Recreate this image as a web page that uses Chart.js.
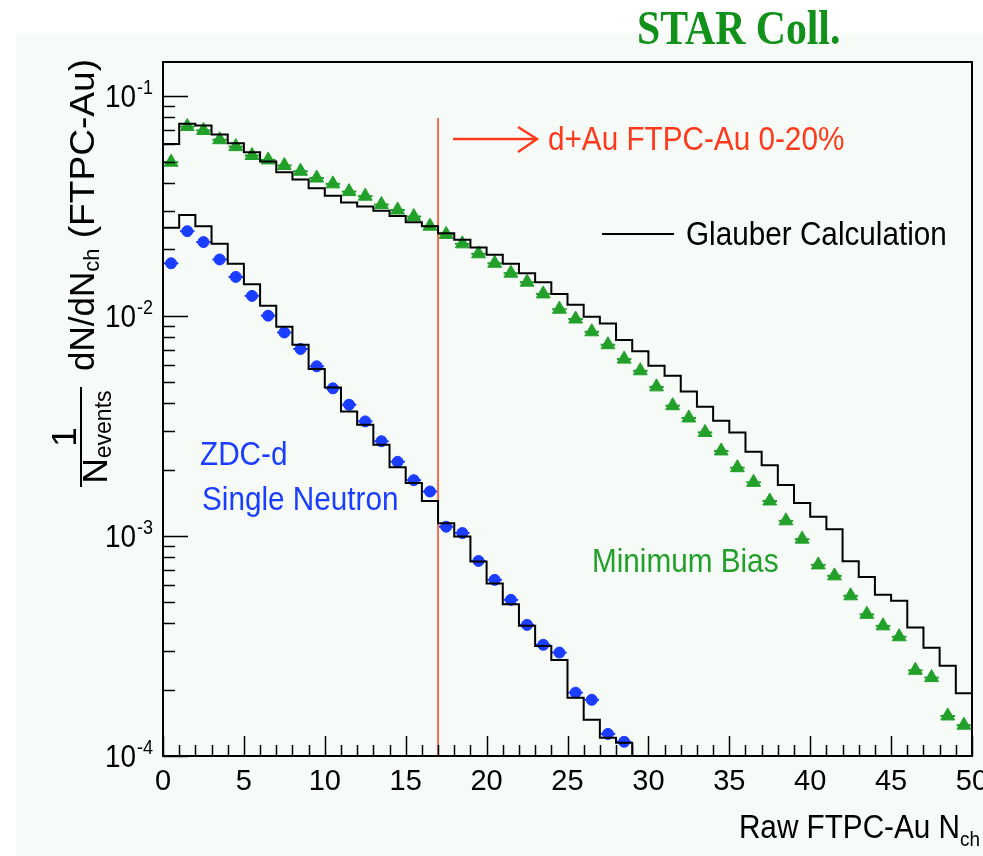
<!DOCTYPE html>
<html>
<head>
<meta charset="utf-8">
<script src="https://cdn.jsdelivr.net/npm/chart.js@4.4.1/dist/chart.umd.min.js"></script>
<style>
    html, body { margin: 0; padding: 0; background: #fff; }
    #wrap { width: 983px; height: 856px; }
</style>
</head>
<body>
<div id="wrap"><canvas id="chart" width="983" height="856"></canvas></div>
<script>
// Glauber histogram, minimum bias (bins 0-1 ... 49-50)
const glauberMinBias = [0.0602, 0.0744, 0.0731, 0.0665, 0.0607, 0.0552, 0.0502, 0.0448, 0.0415, 0.0379,
    0.0351, 0.0327, 0.0313, 0.0300, 0.0284, 0.0266, 0.0255, 0.0237, 0.0221, 0.0204,
    0.0189, 0.0172, 0.0156, 0.0142, 0.01255, 0.0112, 0.0099, 0.00922, 0.00776, 0.00689,
    0.00593, 0.00533, 0.00452, 0.00386, 0.00333, 0.00295, 0.00241, 0.00209, 0.00170, 0.00141,
    0.00122, 0.00107, 0.000766, 0.000651, 0.00054, 0.000507, 0.000383, 0.00031, 0.000257, 0.000193];

// measured minimum bias (bin centres 0.5 ... 49.5)
const minBias = [0.0498, 0.0723, 0.0694, 0.0630, 0.0586, 0.0534, 0.0510, 0.0481, 0.0453, 0.0422,
    0.0397, 0.0366, 0.0349, 0.0320, 0.0302, 0.0282, 0.0255, 0.0234, 0.0212, 0.0191,
    0.0173, 0.0156, 0.0142, 0.01256, 0.0107, 0.00966, 0.00845, 0.00738, 0.00635, 0.00562,
    0.00475, 0.0039, 0.00343, 0.00295, 0.00243, 0.00204, 0.00175, 0.00144, 0.00117, 0.000966,
    0.000738, 0.000658, 0.000534, 0.00044, 0.00039, 0.000348, 0.000245, 0.000227, 0.000152, 0.000138];

// Glauber histogram, ZDC-d single neutron (bins 0-1 ... 28-29)
const glauberZdc = [0.0251, 0.0287, 0.0255, 0.0212, 0.0172, 0.0139, 0.0111, 0.00891, 0.00738, 0.00573,
    0.00472, 0.00367, 0.0032, 0.00259, 0.00205, 0.00174, 0.00144, 0.00114, 0.000993, 0.000764,
    0.000607, 0.000489, 0.00039, 0.000316, 0.000273, 0.000184, 0.000146, 0.000121, 0.000115];

// measured ZDC-d single neutron (bin centres 0.5 ... 28.5)
const zdcSingleN = [0.0173, 0.0242, 0.0216, 0.0180, 0.0150, 0.0123, 0.0100, 0.00839, 0.00706, 0.00589,
    0.00468, 0.00394, 0.00331, 0.00269, 0.00217, 0.00179, 0.00159, 0.0011, 0.00103, 0.000769,
    0.000631, 0.000512, 0.000394, 0.00032, 0.000295, 0.000194, 0.00018, 0.000126, 0.000116];

const xMin = 0, xMax = 50, xStep = 5;
const yMin = 1e-4, yMax = 0.142;
const cutNch = 17;
const cutTop = 0.079;
const yDecades = [1e-1, 1e-2, 1e-3, 1e-4];
const yExponents = ['-1', '-2', '-3', '-4'];

const GREEN = '#22a02a';
const BLUE = '#1a3dff';
const RED = '#ff3a1c';
const FONT = '"Liberation Sans", Arial, Helvetica, sans-serif';

function histPoints(vals, dropToAxis) {
    const pts = vals.map((v, i) => ({ x: i, y: v }));
    pts.push({ x: vals.length, y: vals[vals.length - 1] });
    if (dropToAxis) pts.push({ x: vals.length, y: yMin });
    return pts;
}

function centrePoints(vals) {
    return vals.map((v, i) => ({ x: i + 0.5, y: v }));
}

// text with the narrow look of the original
function txt(ctx, s, x, y, size, color, opts = {}) {
    ctx.save();
    ctx.font = `${opts.bold ? 'bold ' : ''}${size}px ${opts.family || FONT}`;
    ctx.fillStyle = color;
    ctx.textAlign = opts.align || 'left';
    ctx.textBaseline = opts.baseline || 'alphabetic';
    ctx.translate(x, y);
    ctx.scale(opts.sx || 0.9, opts.sy || 1);
    ctx.fillText(s, 0, 0);
    const w = ctx.measureText(s).width * (opts.sx || 0.9);
    ctx.restore();
    return w;
}

function measure(ctx, s, size, sx) {
    ctx.save();
    ctx.font = `${size}px ${FONT}`;
    const w = ctx.measureText(s).width * sx;
    ctx.restore();
    return w;
}

const decorPlugin = {
    id: 'decor',
    beforeDraw(chart) {
        const ctx = chart.ctx;
        ctx.save();
        ctx.fillStyle = '#ffffff';
        ctx.fillRect(0, 0, chart.width, chart.height);
        ctx.fillStyle = '#f6fbf8';
        ctx.fillRect(16, 33, chart.width - 16, chart.height - 33);
        ctx.restore();
    },
    beforeDatasetsDraw(chart) {
        // horizontal error bars (bin width)
        const ctx = chart.ctx;
        const xs = chart.scales.x, ys = chart.scales.y;
        const a = chart.chartArea;
        ctx.save();
        ctx.beginPath();
        ctx.rect(a.left, a.top, a.right - a.left, a.bottom - a.top);
        ctx.clip();
        chart.data.datasets.forEach(ds => {
            if (!ds.errX) return;
            ctx.strokeStyle = ds.borderColor;
            ctx.lineWidth = 2;
            ds.data.forEach(p => {
                const y = ys.getPixelForValue(p.y);
                ctx.beginPath();
                ctx.moveTo(xs.getPixelForValue(p.x - 0.45), y);
                ctx.lineTo(xs.getPixelForValue(p.x + 0.45), y);
                ctx.stroke();
            });
        });
        ctx.restore();
    },
    afterDraw(chart) {
        const ctx = chart.ctx;
        const xs = chart.scales.x, ys = chart.scales.y;
        const a = chart.chartArea;

        // frame
        ctx.save();
        ctx.strokeStyle = '#000';
        ctx.lineWidth = 2;
        ctx.strokeRect(a.left, a.top, a.right - a.left, a.bottom - a.top);

        // x ticks, pointing inward
        ctx.lineWidth = 1.5;
        for (let v = xMin; v <= xMax; v++) {
            const x = Math.round(xs.getPixelForValue(v)) + 0.5;
            const len = v % xStep === 0 ? 20 : 11;
            ctx.beginPath();
            ctx.moveTo(x, a.bottom);
            ctx.lineTo(x, a.bottom - len);
            ctx.stroke();
        }
        // y ticks (log), pointing inward
        yDecades.forEach(d => {
            for (let m = 1; m <= 9; m++) {
                const v = d * m;
                if (v < yMin || v > yMax) continue;
                const y = Math.round(ys.getPixelForValue(v)) + 0.5;
                const len = m === 1 ? 25 : 12;
                ctx.beginPath();
                ctx.moveTo(a.left, y);
                ctx.lineTo(a.left + len, y);
                ctx.stroke();
            }
        });
        ctx.restore();

        // y tick labels 10^-n
        yDecades.forEach((d, i) => {
            const y = ys.getPixelForValue(d);
            txt(ctx, '10', 136, y + 11, 31, '#000', { align: 'right' });
            txt(ctx, yExponents[i], 137, y - 2, 20, '#000');
        });

        // x axis title
        const subW = measure(ctx, 'ch', 21, 0.9);
        txt(ctx, 'Raw FTPC-Au N', 980 - subW, 838, 33, '#000', { align: 'right' });
        txt(ctx, 'ch', 980 - subW, 846, 21, '#000');

        // y axis title
        ctx.save();
        ctx.translate(84, 371);
        ctx.rotate(-Math.PI / 2);
        let w = txt(ctx, 'dN/dN', 0, 0, 35, '#000', { baseline: 'middle', sx: 1 });
        w += txt(ctx, 'ch', w, 9, 22, '#000', { baseline: 'middle', sx: 1 });
        txt(ctx, ' (FTPC-Au)', w, 0, 35, '#000', { baseline: 'middle', sx: 1.06 });
        // fraction 1 / N_events
        const fc = -66;
        ctx.strokeStyle = '#000';
        ctx.lineWidth = 2;
        ctx.beginPath();
        ctx.moveTo(fc - 50, -3);
        ctx.lineTo(fc + 50, -3);
        ctx.stroke();
        txt(ctx, '1', fc, -18, 35, '#000', { baseline: 'middle', align: 'center', sx: 1 });
        const nW = measure(ctx, 'N', 35, 1) + measure(ctx, 'events', 23, 1);
        const n0 = fc - nW / 2;
        const wN = txt(ctx, 'N', n0, 13, 35, '#000', { baseline: 'middle', sx: 1 });
        txt(ctx, 'events', n0 + wN, 21, 23, '#000', { baseline: 'middle', sx: 1 });
        ctx.restore();

        // red arrow + label
        ctx.save();
        ctx.strokeStyle = RED;
        ctx.lineWidth = 2.5;
        ctx.beginPath();
        ctx.moveTo(453, 139);
        ctx.lineTo(537, 139);
        ctx.moveTo(518, 127);
        ctx.lineTo(537, 139);
        ctx.lineTo(518, 152);
        ctx.stroke();
        ctx.restore();
        txt(ctx, 'd+Au FTPC-Au 0-20%', 548, 150, 33, RED);

        // legend for the Glauber line
        ctx.save();
        ctx.strokeStyle = '#000';
        ctx.lineWidth = 2;
        ctx.beginPath();
        ctx.moveTo(602, 234);
        ctx.lineTo(674, 234);
        ctx.stroke();
        ctx.restore();
        txt(ctx, 'Glauber Calculation', 686, 245, 33, '#000');

        // labels
        txt(ctx, 'ZDC-d', 200, 465, 33, BLUE);
        txt(ctx, 'Single Neutron', 202, 510, 33, BLUE);
        txt(ctx, 'Minimum Bias', 592, 572, 33, GREEN);
        txt(ctx, 'STAR Coll.', 637, 44, 48, '#11901a',
            { bold: true, family: '"Liberation Serif", "Times New Roman", serif', sx: 0.87 });
    }
};

const ctx = document.getElementById('chart').getContext('2d');
new Chart(ctx, {
    type: 'scatter',
    data: {
        datasets: [
            {
                type: 'line',
                label: 'Glauber Calculation (min. bias)',
                data: histPoints(glauberMinBias, false),
                stepped: 'before',
                showLine: true,
                borderColor: '#000',
                borderWidth: 2,
                pointRadius: 0,
                fill: false
            },
            {
                type: 'line',
                label: 'Glauber Calculation (ZDC-d)',
                data: histPoints(glauberZdc, true),
                stepped: 'before',
                showLine: true,
                borderColor: '#000',
                borderWidth: 2,
                pointRadius: 0,
                fill: false
            },
            {
                type: 'line',
                label: 'd+Au FTPC-Au 0-20%',
                data: [{ x: cutNch, y: yMin }, { x: cutNch, y: cutTop }],
                showLine: true,
                borderColor: RED,
                borderWidth: 1.5,
                pointRadius: 0,
                fill: false
            },
            {
                label: 'Minimum Bias',
                data: centrePoints(minBias),
                pointStyle: 'triangle',
                pointRadius: 8,
                backgroundColor: GREEN,
                borderColor: GREEN,
                borderWidth: 1,
                errX: true
            },
            {
                label: 'ZDC-d Single Neutron',
                data: centrePoints(zdcSingleN),
                pointStyle: 'circle',
                pointRadius: 5.5,
                backgroundColor: BLUE,
                borderColor: BLUE,
                borderWidth: 1,
                errX: true
            }
        ]
    },
    options: {
        responsive: false,
        animation: false,
        devicePixelRatio: 1,
        layout: { padding: { left: 0, right: 11, top: 62, bottom: 0 }, autoPadding: false },
        plugins: { legend: { display: false }, tooltip: { enabled: false } },
        scales: {
            x: {
                type: 'linear',
                min: xMin,
                max: xMax,
                ticks: { stepSize: xStep, autoSkip: false, maxRotation: 0, padding: 9, color: '#000',
                    font: { family: FONT, size: 29 } },
                grid: { display: false, drawTicks: false },
                border: { display: false },
                afterFit: s => { s.height = 100; s.paddingLeft = 0; s.paddingRight = 0; }
            },
            y: {
                type: 'logarithmic',
                min: yMin,
                max: yMax,
                ticks: { display: false },
                grid: { display: false, drawTicks: false },
                border: { display: false },
                afterFit: s => { s.width = 163; s.paddingTop = 0; s.paddingBottom = 0; }
            }
        }
    },
    plugins: [decorPlugin]
});
</script>
</body>
</html>
